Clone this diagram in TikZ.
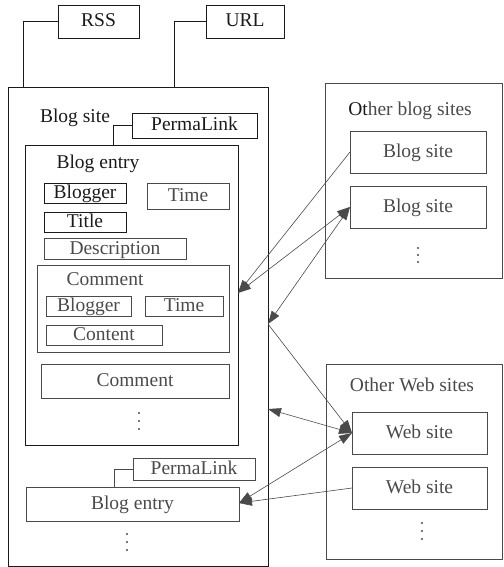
\documentclass[tikz,border=0pt]{standalone}
\usepackage{fontspec}
\setmainfont{Liberation Serif}
\usetikzlibrary{arrows.meta}
\definecolor{dk}{HTML}{1A1A1A}
\definecolor{gr}{HTML}{4A4A4A}
\begin{document}
\begin{tikzpicture}[x=1pt,y=-1pt,
  every node/.style={font=\fontsize{19.5}{22}\selectfont, inner sep=0pt, outer sep=0pt, text height=13pt, text depth=2pt},
  bx/.style={draw=dk, line width=0.8pt, text=dk, rectangle},
  gbx/.style={draw=gr, line width=0.8pt, text=gr, rectangle},
  lbl/.style={text=dk},
  glbl/.style={text=gr},
  conn/.style={draw=dk, line width=0.7pt},
  tip/.style={Triangle[length=13pt,width=9pt]},
  arr/.style={draw=gr, line width=0.6pt, -{Triangle[length=13pt,width=9pt]}},
  darr/.style={draw=gr, line width=0.6pt, {Triangle[length=13pt,width=9pt]}-{Triangle[length=13pt,width=9pt]}},
  vdotsn/.style={fill=gr, circle, minimum size=2.2pt, draw=none, text height=, text depth=},
]
\useasboundingbox (0,0) rectangle (503,567);
% top boxes
\node[bx, minimum width=81pt, minimum height=33pt] (rss) at (98.5,21.5) {RSS};
\node[bx, minimum width=78pt, minimum height=33pt] (url) at (245,21.5) {URL};
% main blog site
\node[bx, minimum width=260pt, minimum height=479pt] (main) at (138,326.5) {};
\node[lbl] (mainlbl) at (75,117) {Blog site};
\draw[conn] (rss.west) -| (main.north -| 23,0);
\draw[conn] (url.west) -| (main.north -| 174,0);
% permalink 1
\node[bx, minimum width=125pt, minimum height=25pt] (pl1) at (194.5,125.5) {PermaLink};
% blog entry
\node[bx, minimum width=213pt, minimum height=300pt] (entry) at (131.5,295) {};
\draw[conn] (pl1.west) -| (entry.north -| 113,0);
\node[lbl] (entrylbl) at (98,163) {Blog entry};
\node[bx, minimum width=82pt, minimum height=20pt] (blogger) at (85,193) {Blogger};
\node[gbx, minimum width=82pt, minimum height=26pt] (time) at (188,196) {Time};
\node[bx, minimum width=82pt, minimum height=20pt] (title) at (85,222) {Title};
\node[gbx, minimum width=142pt, minimum height=21pt] (desc) at (115,248.5) {Description};
% comment
\node[gbx, minimum width=192pt, minimum height=87pt] (comment) at (133,308.5) {};
\node[glbl] (commentlbl) at (105,280) {Comment};
\node[gbx, minimum width=85pt, minimum height=20pt] (blogger2) at (88.5,306) {Blogger};
\node[gbx, minimum width=78pt, minimum height=20pt] (time2) at (184,306) {Time};
\node[gbx, minimum width=116pt, minimum height=20pt] (content) at (104,335) {Content};
\node[gbx, minimum width=188pt, minimum height=34pt] (comment2) at (135,381) {Comment};
\foreach \yy in {413,421,429} \node[vdotsn] at (139,\yy) {};
% permalink 2 and blog entry 2
\node[gbx, minimum width=122pt, minimum height=22pt] (pl2) at (194,469) {PermaLink};
\node[gbx, minimum width=213pt, minimum height=34pt] (entry2) at (132.5,504) {Blog entry};
\draw[draw=gr, line width=0.8pt] (pl2.west) -| (entry2.north -| 114,0);
\foreach \yy in {534,542,550} \node[vdotsn] at (127,\yy) {};
% other blog sites
\node[gbx, minimum width=177pt, minimum height=195pt] (obs) at (413.5,180.5) {};
\node[glbl] (obslbl) at (410,110) {\textcolor{dk}{Ot}her blog sites};
\node[gbx, minimum width=136pt, minimum height=42pt] (bs1) at (418,152) {Blog site};
\node[gbx, minimum width=136pt, minimum height=42pt] (bs2) at (418,207) {Blog site};
\foreach \yy in {248,255,262} \node[vdotsn] at (418,\yy) {};
% other web sites
\node[gbx, minimum width=176pt, minimum height=195pt] (ows) at (414,461.5) {};
\node[glbl] (owslbl) at (412,386) {Other Web sites};
\node[gbx, minimum width=135pt, minimum height=42pt] (ws1) at (419.5,433) {Web site};
\node[gbx, minimum width=135pt, minimum height=42pt] (ws2) at (419.5,488) {Web site};
\foreach \yy in {523,531,539} \node[vdotsn] at (422,\yy) {};
% connector points
\coordinate (eA) at (entry.east |- 0,293);
\coordinate (mA) at (main.east |- 0,324);
\coordinate (mB) at (main.east |- 0,409);
\coordinate (e2A) at (entry2.east |- 0,503);
% arrows
\draw[arr] (bs1.west) -- (eA);
\draw[darr] (eA) -- (bs2.west);
\draw[darr] (mA) -- (bs2.west);
\draw[arr] (mA) -- (ws1.west);
\draw[darr] (mB) -- (ws1.west);
\draw[darr] (e2A) -- (ws1.west);
\draw[arr] (ws2.west) -- (e2A);
\end{tikzpicture}
\end{document}
